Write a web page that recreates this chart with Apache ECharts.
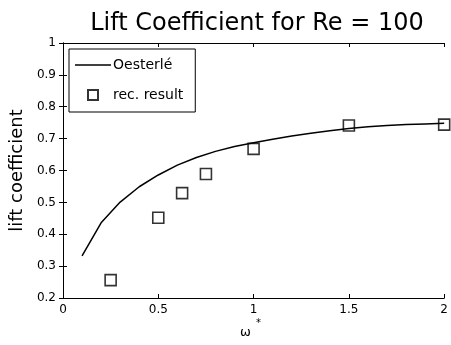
<!DOCTYPE html>
<html><head><meta charset="utf-8">
<script src="https://cdn.jsdelivr.net/npm/echarts@6/dist/echarts.min.js"></script>
<style>html,body{margin:0;padding:0;background:#fff}#c{width:451px;height:345px}</style>
</head><body><div id="c"></div>
<script>
const titleText = 'Lift Coefficient for Re = 100';
const oesterleX = [0.1,0.2,0.3,0.4,0.5,0.6,0.7,0.8,0.9,1.0,1.1,1.2,1.3,1.4,1.5,1.6,1.7,1.8,1.9,2.0];
const oesterleY = [0.332,0.436,0.501,0.549,0.586,0.617,0.641,0.660,0.675,0.687,0.698,0.708,0.717,0.725,0.732,0.737,0.741,0.744,0.746,0.748];
const recX = [0.25,0.5,0.625,0.75,1.0,1.5,2.0];
const recY = [0.256,0.452,0.529,0.589,0.668,0.741,0.744];
const xTicks = [0,0.5,1,1.5,2];
const yTicks = [0.2,0.3,0.4,0.5,0.6,0.7,0.8,0.9,1];

const FONT = '"DejaVu Sans", Verdana, sans-serif';
const chart = echarts.init(document.getElementById('c'), null, {renderer:'canvas'});
const axisCommon = {
  axisLine:{show:true,lineStyle:{color:'#000',width:1}},
  axisTick:{show:true,inside:true,length:4,lineStyle:{color:'#000'}},
  splitLine:{show:false}
};
chart.setOption({
  animation:false,
  backgroundColor:'#fff',
  title:{text:titleText,left:252,textAlign:'center',top:7,
    textStyle:{fontFamily:FONT,fontSize:24,fontWeight:'normal',color:'#000'}},
  grid:{left:60,right:5,top:43,bottom:47},
  legend:{
    left:69, top:49, orient:'vertical', width:122,
    backgroundColor:'#fff', borderColor:'#000', borderWidth:1,
    padding:[9,12,10,6], itemGap:16, itemWidth:36, itemHeight:10,
    symbolKeepAspect:true,
    textStyle:{fontFamily:FONT,fontSize:14,color:'#000',padding:[0,0,0,-3]},
    data:[
      {name:'Oesterlé', icon:'path://M0,0H36V1.4H0Z'},
      {name:'rec. result', icon:'path://M0,0H10V10H0Z'}
    ]
  },
  xAxis:[
    Object.assign({type:'value',min:0,max:2,interval:0.5,position:'bottom',
      axisLabel:{color:'#000',fontFamily:FONT,fontSize:12,margin:6,
        formatter:v=>xTicks.includes(v)?String(v):''}}, axisCommon),
    Object.assign({type:'value',min:0,max:2,interval:0.5,position:'top',
      axisLabel:{show:false}}, axisCommon)
  ],
  yAxis:[
    Object.assign({type:'value',min:0.2,max:1,interval:0.1,position:'left',
      name:'lift coefficient',nameLocation:'middle',nameGap:34,
      nameTextStyle:{fontFamily:FONT,fontSize:18,color:'#000'},
      axisLabel:{color:'#000',fontFamily:FONT,fontSize:12,margin:7,
        formatter:v=>{const r=Math.round(v*10)/10; return yTicks.includes(r)?String(r):'';}}}, axisCommon),
    Object.assign({type:'value',min:0.2,max:1,interval:0.1,position:'right',
      axisLabel:{show:false}}, axisCommon)
  ],
  graphic:[
    {type:'text',left:240,top:326,style:{text:'ω',font:'13px '+FONT,fill:'#000'}},
    {type:'text',left:256,top:318,style:{text:'*',font:'10px '+FONT,fill:'#000'}}
  ],
  series:[
    {name:'Oesterlé',type:'line',symbol:'none',smooth:false,clip:false,
      lineStyle:{color:'#000',width:1.5},itemStyle:{color:'#000'},
      data:oesterleX.map((x,i)=>[x,oesterleY[i]])},
    {name:'rec. result',type:'scatter',symbol:'rect',symbolSize:11,clip:false,
      itemStyle:{color:'rgba(0,0,0,0)',borderColor:'#000',borderWidth:1.6},
      data:recX.map((x,i)=>[x,recY[i]])}
  ]
});
</script></body></html>
